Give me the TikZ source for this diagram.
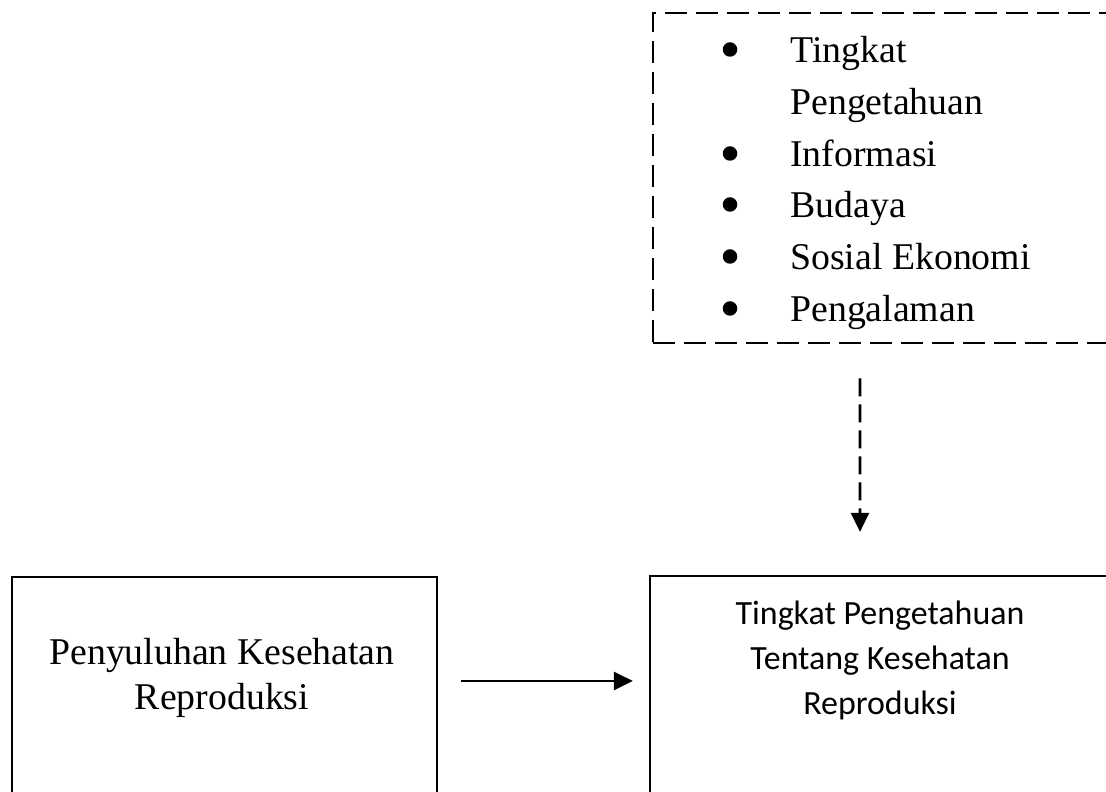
\documentclass[tikz,border=0pt]{standalone}
\usepackage{fontspec}
\setmainfont{Liberation Serif}
\newfontfamily\calibrifont{Carlito}
\usetikzlibrary{arrows.meta}

\begin{document}
\begin{tikzpicture}[
    frame/.style={draw, line width=1.3pt, inner sep=0pt},
    dashframe/.style={draw, line width=1.6pt, dash pattern=on 0.44cm off 0.18cm, inner sep=0pt},
    item/.style={anchor=base west, inner sep=0pt, font=\fontsize{21.5}{29}\selectfont},
    dot/.style={circle, fill, inner sep=0pt, minimum size=0.29cm},
    serif/.style={anchor=north, inner sep=0pt, align=center, font=\fontsize{21.5}{25.6}\selectfont},
    sans/.style={anchor=north, inner sep=0pt, align=center, font=\calibrifont\fontsize{19.3}{25.6}\selectfont},
    arrow/.style={-{Triangle[length=0.38cm, width=0.36cm]}, line width=1.5pt}
]
\useasboundingbox (0,0) rectangle (22.12,15.82);
\clip (0,0) rectangle (22.12,15.82);

% Factors (dashed box, runs off the right edge)
\node[dashframe, minimum width=9.44cm, minimum height=6.6cm] (factors) at (17.78,12.26) {};
\node[dot] (dotA) at (14.6,14.83) {};
\node[item] (tingkat) at (15.8,14.56) {Tingkat};
\node[item] (pengetahuan) at (15.8,13.52) {Pengetahuan};
\node[dot] (dotB) at (14.6,12.75) {};
\node[item] (informasi) at (15.8,12.48) {Informasi};
\node[dot] (dotC) at (14.6,11.73) {};
\node[item] (budaya) at (15.8,11.46) {Budaya};
\node[dot] (dotD) at (14.6,10.69) {};
\node[item] (sosial) at (15.8,10.42) {Sosial Ekonomi};
\node[dot] (dotE) at (14.6,9.65) {};
\node[item] (pengalaman) at (15.8,9.38) {Pengalaman};

% Bottom boxes
\node[frame, minimum width=8.5cm, minimum height=4.8cm] (leftbox) at (4.49,1.88) {};
\node[serif] (penyuluhan) at (4.44,3.06) {Penyuluhan Kesehatan\\Reproduksi};
\node[frame, minimum width=9.6cm, minimum height=4.8cm] (rightbox) at (17.8,1.90) {};
\node[sans] (knowledge) at (17.6,3.8) {Tingkat Pengetahuan\\Tentang Kesehatan\\Reproduksi};

% Arrows
\draw[arrow] ([xshift=0.46cm, yshift=-0.06cm]leftbox.east |- penyuluhan.center) -- ([xshift=-0.32cm, yshift=-0.06cm]rightbox.west |- penyuluhan.center);
\draw[arrow, dash pattern=on 0.36cm off 0.16cm] ([xshift=-0.58cm, yshift=-0.68cm]factors.south) -- ([xshift=-0.6cm, yshift=0.86cm]rightbox.north);
\end{tikzpicture}
\end{document}
